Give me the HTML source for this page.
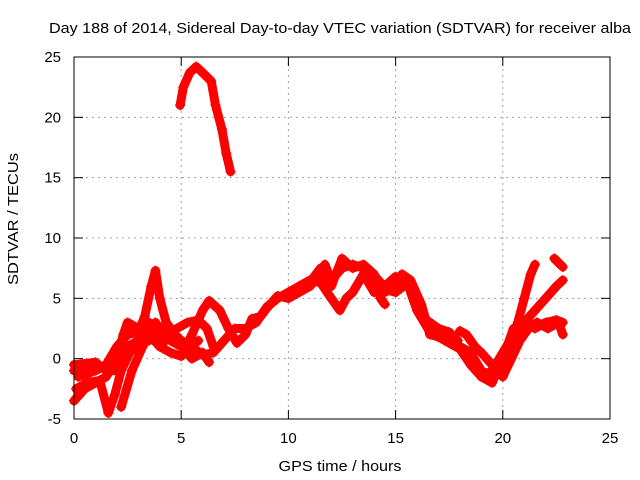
<!DOCTYPE html>
<html><head><meta charset="utf-8"><style>
body{margin:0;background:#fff;}
svg{display:block;font-family:"Liberation Sans",sans-serif;}
</style></head><body>
<svg id="chart" width="640" height="480" viewBox="0 0 640 480">
<rect width="640" height="480" fill="#fff"/>
<text x="340" y="33" font-size="15" text-anchor="middle" textLength="582" lengthAdjust="spacingAndGlyphs">Day 188 of 2014, Sidereal Day-to-day VTEC variation (SDTVAR) for receiver alba</text>
<text x="340" y="471" font-size="15" text-anchor="middle" textLength="123" lengthAdjust="spacingAndGlyphs">GPS time / hours</text>
<text transform="translate(18,219) rotate(-90)" font-size="15" text-anchor="middle" textLength="132" lengthAdjust="spacingAndGlyphs">SDTVAR / TECUs</text>
<g id="grid"></g>
<g id="marks"></g>
<rect x="74" y="57" width="536" height="362" fill="none" stroke="#000"/>
<g id="ticks"></g>
</svg>
<script>
const xTicks=[0,5,10,15,20,25];
const yTicks=[-5,0,5,10,15,20,25];
const track1=[[4.95,21],[5.1,22.5],[5.4,23.7],[5.7,24.2],[6.0,23.7],[6.4,23],[6.6,21],[6.9,19],[7.1,17],[7.3,15.5]];
const track2=[[0,-3.5],[0.5,-2.5],[1,-2],[1.5,-1.5],[2,0],[2.3,2],[2.5,3],[3,2.5],[3.5,2],[4,1],[4.5,0.5],[5,0.2],[5.5,2],[6,4],[6.3,4.8],[6.8,4],[7.2,2.5],[7.6,1.3],[8,2],[8.3,3.3],[8.7,3.5],[9,4.2],[9.5,5.2],[10,5],[10.5,5.5],[11,6],[11.5,7],[11.7,7.8],[12,6.5],[12.5,7.5],[13,7.8],[13.5,7.5],[14,6.5],[14.5,6],[15,6.8],[15.5,6.5],[16,4],[16.5,2.5],[17,2],[17.5,1.8],[18,1],[18.5,0.5],[19,-1],[19.5,-1.5],[20,-1],[20.3,1],[20.7,3],[21,5],[21.3,7],[21.5,7.8]];
const track3=[[0,-1],[0.5,-0.8],[1,-1],[1.5,-0.5],[2,1],[2.5,2],[3,2.2],[3.3,3.5],[3.6,6],[3.8,7.3],[4,5],[4.3,3],[4.7,2],[5,1.5],[5.5,1],[6,0.3],[6.5,0.5],[7,1.5],[7.5,2.5],[8,2.5],[8.5,3],[9,4.3],[9.5,5],[10,5.5],[10.5,6],[11,6.5],[11.5,6.3],[12,5],[12.4,4],[12.7,5],[13,5.5],[13.5,7],[14,5.5],[14.5,5.5],[15,6],[15.3,7],[15.7,6.5],[16.2,4.5],[16.6,2],[17,1.8],[17.5,1.3],[18,0.8],[18.5,-0.5],[19,-1.5],[19.5,-1],[20,0.5],[20.5,2],[21,3],[21.5,2.5],[22,3],[22.5,3.2],[22.8,3]];
const track4=[[0.1,-2.5],[0.6,-2],[1.2,-1.8],[1.6,-4.5],[1.9,-3],[2.2,-1],[2.6,0.5],[3,1.5],[3.5,1.5],[4,2],[4.5,1.5],[5,1],[5.5,0],[6,0.5],[6.3,-0.3]];
const track5=[[2.2,-4],[2.7,-1],[3.2,1],[3.8,3],[4.2,2],[4.8,2.5],[5.3,3],[5.8,3.2],[6.2,2.5],[6.5,1]];
const track6=[[11.2,6.8],[11.5,7.5],[12,6],[12.5,8.3],[13,7.5],[13.5,7.8],[14,7],[14.3,5],[14.5,4.5]];
const track7=[[19,-1.5],[19.5,-2],[20,0],[20.5,2.5],[21,3],[21.5,4],[22,5],[22.5,6],[22.8,6.5]];
const track8=[[0,-0.5],[1,-0.3],[1.5,-1],[2,-1],[2.5,1],[3,1.5],[3.5,3],[4,1],[4.5,2]];
const track9=[[22.4,8.3],[22.8,7.6]];
const track10=[[16.2,3.5],[16.6,3],[17,2.5],[17.5,2.2],[17.9,1.5]];
const track11=[[18,2.3],[18.3,2],[18.7,1],[19,0.5],[19.5,-0.5],[20,-1.5],[20.4,0],[20.8,1.5],[21.2,2.5],[21.6,3],[22.1,2.5],[22.6,3],[22.8,2]];
const track12=[[0.2,-1.5],[0.7,-1.2],[1.2,-0.8],[1.8,-0.3],[2.3,0.5],[2.8,1],[3.3,1.8],[3.8,2.4],[4.3,1.8],[4.8,1.2],[5.3,0.8],[5.8,1.5]];
const track13=[[13.8,7.3],[14.2,6.5],[14.6,5.7],[15,5.5],[15.5,6.2]];
const tracks=[track1,track2,track3,track4,track5,track6,track7,track8,track9,track10,track11,track12,track13];
const xS=h=>74+h*536/25;
const yS=v=>57+(25-v)*362/30;
const NS='http://www.w3.org/2000/svg';
const grid=document.getElementById('grid'),ticks=document.getElementById('ticks'),marks=document.getElementById('marks');
function mk(t,a,p){const e=document.createElementNS(NS,t);for(const k in a)e.setAttribute(k,a[k]);p.appendChild(e);return e;}
xTicks.forEach(t=>{const x=xS(t);
 if(t>0&&t<25){const g=mk('line',{x1:x,x2:x,y1:57,y2:419,stroke:'#a0a0a0','stroke-dasharray':'2,4'},grid);
 
 }
 mk('line',{x1:x,x2:x,y1:419,y2:410,stroke:'#000'},ticks);mk('line',{x1:x,x2:x,y1:57,y2:66,stroke:'#000'},ticks);
 const l=mk('text',{x:x,y:443,'font-size':15,'text-anchor':'middle'},ticks);l.textContent=t;
 
 });
yTicks.forEach(t=>{const y=yS(t);
 if(t>-5&&t<25){const g=mk('line',{x1:74,x2:610,y1:y,y2:y,stroke:'#a0a0a0','stroke-dasharray':'2,4'},grid);
 
 }
 mk('line',{x1:74,x2:83,y1:y,y2:y,stroke:'#000'},ticks);mk('line',{x1:610,x2:601,y1:y,y2:y,stroke:'#000'},ticks);
 const l=mk('text',{x:61,y:y+5,'font-size':15,'text-anchor':'end'},ticks);l.textContent=t;
 
 });
tracks.forEach(tr=>{
 const p=mk('polyline',{points:tr.map(d=>xS(d[0])+','+yS(d[1])).join(' '),fill:'none',stroke:'#ff0000','stroke-width':9,'stroke-linejoin':'round','stroke-linecap':'round'},marks);
 
 
 tr.forEach(d=>{const x=xS(d[0]),y=yS(d[1]);
  const m=mk('path',{d:`M${x-5},${y}H${x+5}M${x},${y-5}V${y+5}`,stroke:'#ff0000','stroke-width':1.5},marks);
  
  });
});
</script>
</body></html>
